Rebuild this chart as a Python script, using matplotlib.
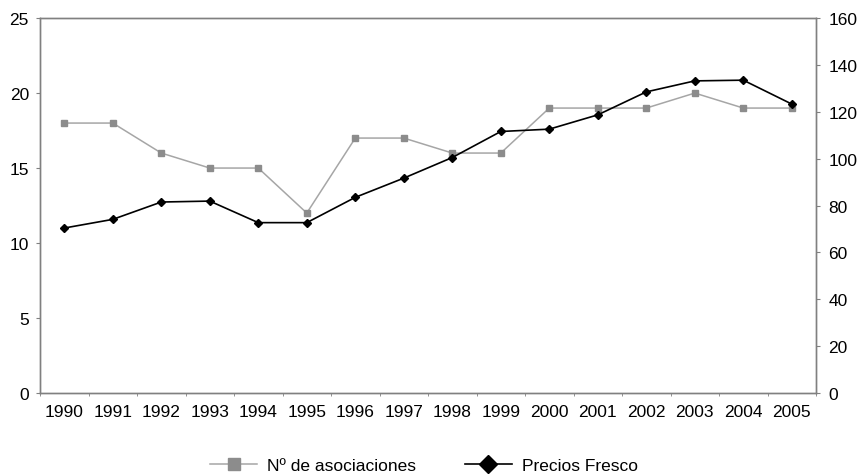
import matplotlib.pyplot as plt
import numpy as np

plt.rcParams['font.family'] = ['Liberation Sans', 'DejaVu Sans']

# Data
years = [1990, 1991, 1992, 1993, 1994, 1995, 1996, 1997,
         1998, 1999, 2000, 2001, 2002, 2003, 2004, 2005]
asociaciones = [18, 18, 16, 15, 15, 12, 17, 17, 16, 16, 19, 19, 19, 20, 19, 19]
precios_fresco = [70.4, 74.1, 81.5, 81.9, 72.7, 72.7, 83.5, 91.7,
                  100.5, 111.6, 112.6, 118.7, 128.5, 133.2, 133.5, 123.3]

x = np.arange(len(years))

fig = plt.figure(figsize=(8.59, 4.77), dpi=100)
ax = fig.add_axes([0.0466, 0.174, 0.9034, 0.786])
ax2 = ax.twinx()

l1, = ax.plot(x, asociaciones, color="#a6a6a6", linewidth=1.1,
              marker="s", markersize=4, markerfacecolor="#8c8c8c",
              markeredgecolor="#8c8c8c", label="Nº de asociaciones")
l2, = ax2.plot(x, precios_fresco, color="black", linewidth=1.2,
               marker="D", markersize=4, label="Precios Fresco")

ax.set_xlim(-0.5, len(years) - 0.5)
ax.set_ylim(0, 25)
ax.set_yticks([0, 5, 10, 15, 20, 25])
ax2.set_ylim(0, 160)
ax2.set_yticks(range(0, 161, 20))

ax.set_xticks(x)
ax.set_xticklabels([str(y) for y in years])
ax.set_xticks(np.arange(-0.5, len(years), 1), minor=True)
ax.tick_params(axis="x", which="major", length=0, labelsize=12.5, pad=8)
ax.tick_params(axis="x", which="minor", length=2.5, color="#808080")
ax.tick_params(axis="y", length=3, color="#808080", labelsize=12.5, pad=5)
ax2.tick_params(axis="y", length=3, color="#808080", labelsize=12.5, pad=6)

for a in (ax, ax2):
    for s in a.spines.values():
        s.set_color("#808080")
        s.set_linewidth(1.0)

fig.legend(handles=[l1, l2], loc="center", ncol=2, frameon=False,
           fontsize=12.5, bbox_to_anchor=(0.4936, 0.0216), handlelength=2.7,
           handletextpad=0.58, columnspacing=2.8, markerscale=2.2)

fig.savefig("out.png", dpi=100)
